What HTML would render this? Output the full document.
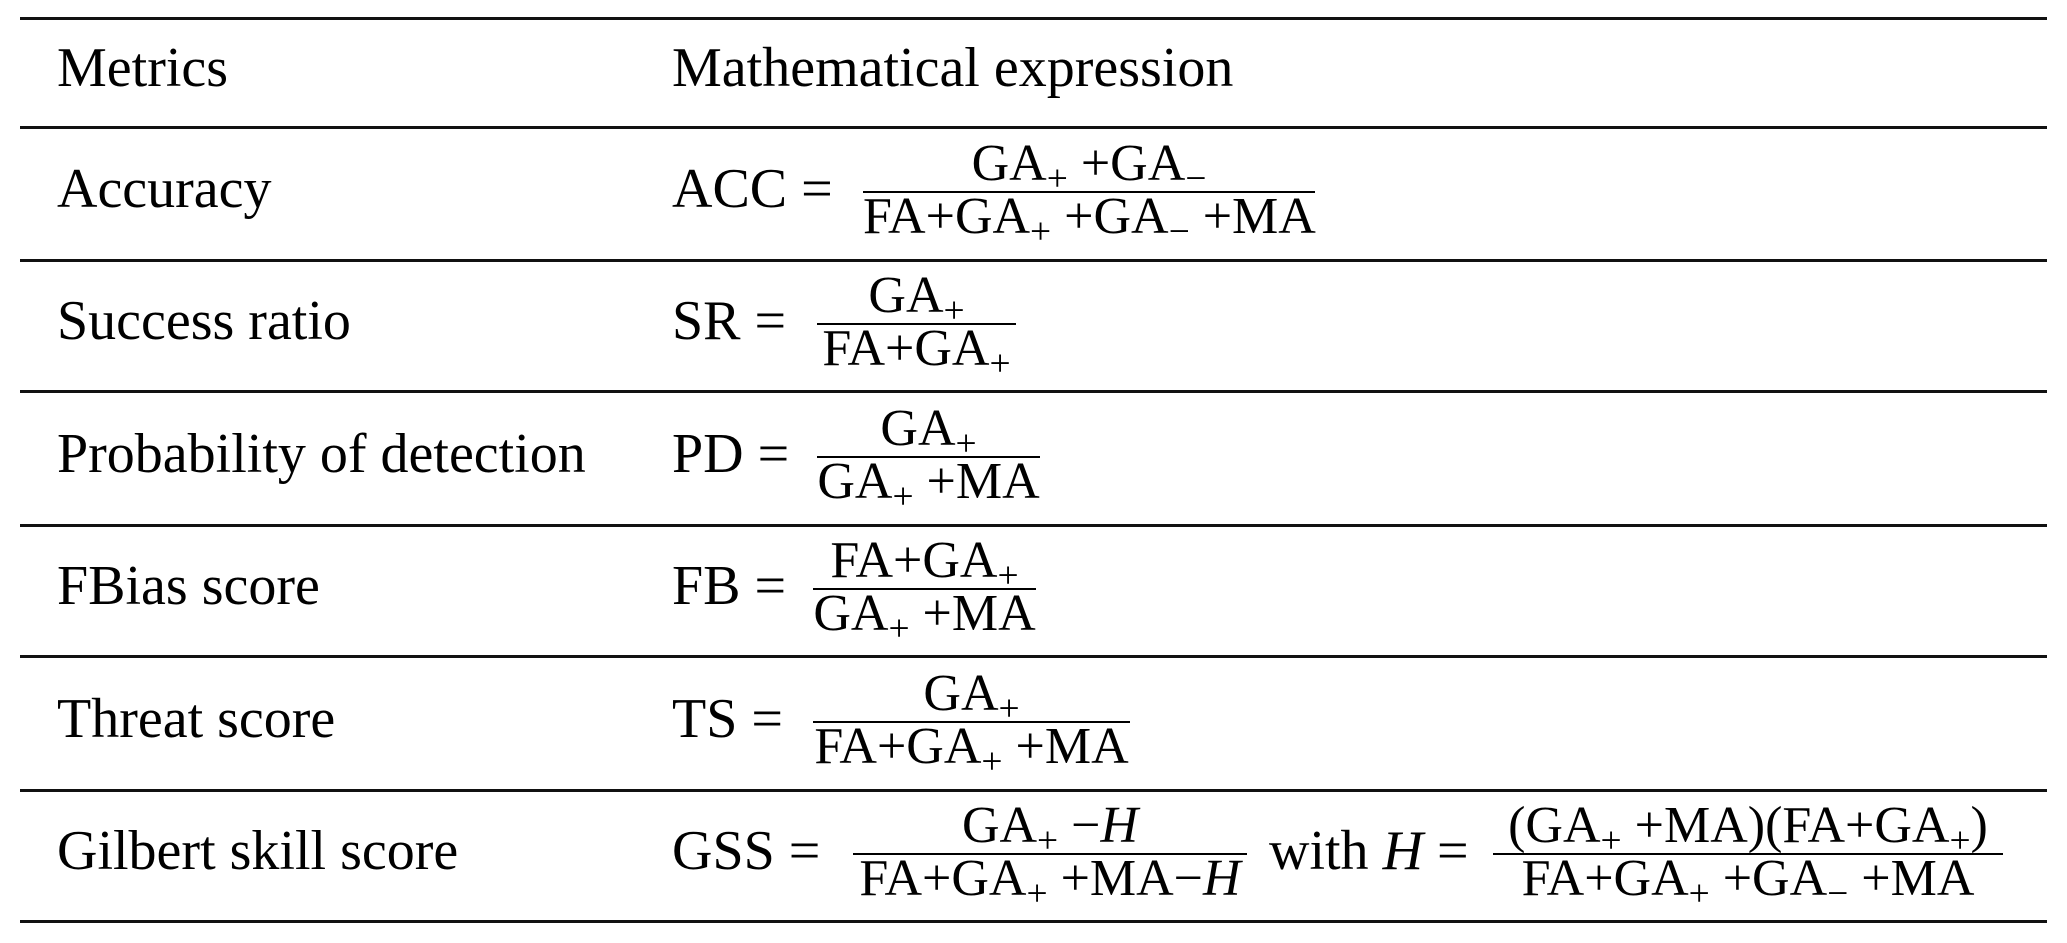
<!DOCTYPE html>
<html><head><meta charset="utf-8"><style>
body{margin:0;width:2067px;height:943px;background:#fff;position:relative;overflow:hidden;font-family:"Liberation Serif",serif;color:#000}
.l{position:absolute;left:20px;width:2027px;height:3px;background:#111}
.t{position:absolute;font-size:56px;line-height:56px;white-space:nowrap}
.bar{position:absolute;height:2px;background:#000}
.n{position:absolute;font-size:52px;line-height:52px;white-space:nowrap;text-align:center}
sub{font-size:72%;vertical-align:-0.28em;line-height:0}
i{font-style:italic}
</style></head><body>
<div class="l" style="top:17px"></div>
<div class="l" style="top:126px"></div>
<div class="l" style="top:259px"></div>
<div class="l" style="top:390px"></div>
<div class="l" style="top:524px"></div>
<div class="l" style="top:655px"></div>
<div class="l" style="top:789px"></div>
<div class="l" style="top:920px"></div>

<div class="t" style="left:57px;top:40px">Metrics</div>
<div class="t" style="left:672px;top:40px">Mathematical expression</div>

<div class="t" style="left:57px;top:161px">Accuracy</div>
<div class="t" style="left:672px;top:161px">ACC =</div>
<div class="bar" style="left:863px;width:452px;top:191px"></div>
<div class="n" style="left:863px;width:452px;top:138px">GA<sub>+</sub> +GA<sub>−</sub></div>
<div class="n" style="left:863px;width:452px;top:191px">FA+GA<sub>+</sub> +GA<sub>−</sub> +MA</div>

<div class="t" style="left:57px;top:293px">Success ratio</div>
<div class="t" style="left:672px;top:293px">SR =</div>
<div class="bar" style="left:817px;width:199px;top:323px"></div>
<div class="n" style="left:817px;width:199px;top:270px">GA<sub>+</sub></div>
<div class="n" style="left:817px;width:199px;top:323px">FA+GA<sub>+</sub></div>

<div class="t" style="left:57px;top:426px">Probability of detection</div>
<div class="t" style="left:672px;top:426px">PD =</div>
<div class="bar" style="left:817px;width:223px;top:456px"></div>
<div class="n" style="left:817px;width:223px;top:403px">GA<sub>+</sub></div>
<div class="n" style="left:817px;width:223px;top:456px">GA<sub>+</sub> +MA</div>

<div class="t" style="left:57px;top:558px">FBias score</div>
<div class="t" style="left:672px;top:558px">FB =</div>
<div class="bar" style="left:813px;width:223px;top:588px"></div>
<div class="n" style="left:813px;width:223px;top:535px">FA+GA<sub>+</sub></div>
<div class="n" style="left:813px;width:223px;top:588px">GA<sub>+</sub> +MA</div>

<div class="t" style="left:57px;top:691px">Threat score</div>
<div class="t" style="left:672px;top:691px">TS =</div>
<div class="bar" style="left:813px;width:317px;top:721px"></div>
<div class="n" style="left:813px;width:317px;top:668px">GA<sub>+</sub></div>
<div class="n" style="left:813px;width:317px;top:721px">FA+GA<sub>+</sub> +MA</div>

<div class="t" style="left:57px;top:823px">Gilbert skill score</div>
<div class="t" style="left:672px;top:823px">GSS =</div>
<div class="bar" style="left:853px;width:394px;top:853px"></div>
<div class="n" style="left:853px;width:394px;top:800px">GA<sub>+</sub> −<i>H</i></div>
<div class="n" style="left:853px;width:394px;top:853px">FA+GA<sub>+</sub> +MA−<i>H</i></div>
<div class="t" style="left:1269px;top:823px">with <i>H</i> =</div>
<div class="bar" style="left:1493px;width:510px;top:853px"></div>
<div class="n" style="left:1493px;width:510px;top:800px">(GA<sub>+</sub> +MA)(FA+GA<sub>+</sub>)</div>
<div class="n" style="left:1493px;width:510px;top:853px">FA+GA<sub>+</sub> +GA<sub>−</sub> +MA</div>
</body></html>
